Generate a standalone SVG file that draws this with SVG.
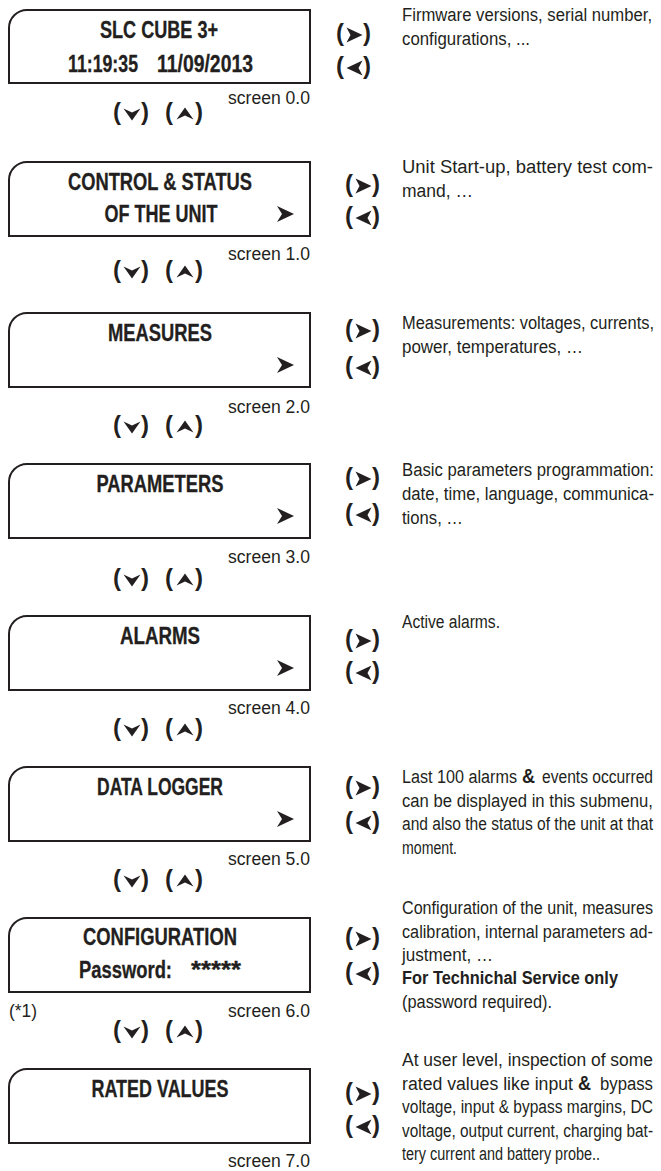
<svg xmlns="http://www.w3.org/2000/svg" xmlns:xlink="http://www.w3.org/1999/xlink" width="661" height="1171" viewBox="0 0 661 1171">
<style>
.bx{fill:#fff;stroke:#231f20;stroke-width:2}
text{font-family:"Liberation Sans Narrow","Liberation Sans",Arial,sans-serif;fill:#231f20}
.t{font-weight:bold;font-size:23px;text-anchor:middle;stroke:#231f20;stroke-width:0.3}
.t2{font-weight:bold;font-size:23px;stroke:#231f20;stroke-width:0.3}
.s{font-size:18px;text-anchor:end}
.d{font-size:19px}
.b{font-weight:bold}
.amp{font-weight:bold;font-size:21px}
.p{font-weight:bold;font-size:24px}
.k{fill:#231f20}
</style>
<defs>
<path id="box" d="M9,74 V18 A18,18 0 0 1 27,0 H310 V74 Z"/>
<path id="arr" d="M0,-8 L17,0 L0,8 L5,0 Z"/>
<path id="chR" d="M0,-7.5 L16,0 L0,7.5 L4,0 Z"/>
<path id="chL" d="M16,-7.5 L0,0 L16,7.5 L12,0 Z"/>
<path id="chD" d="M-8.5,-5.5 L0,-1.5 L8.5,-5.5 L0,6.5 Z"/>
<path id="chU" d="M-8.5,5.5 L0,1.5 L8.5,5.5 L0,-6.5 Z"/>
</defs>

<g id="screen0">
<path class="bx" d="M9,83 V28 A18,18 0 0 1 27,10 H310 V83 Z"/>
<text class="t" x="159" y="38" textLength="118" lengthAdjust="spacingAndGlyphs">SLC CUBE 3+</text>
<text class="t2" y="72"><tspan x="68" textLength="70" lengthAdjust="spacingAndGlyphs">11:19:35</tspan><tspan x="157" textLength="96" lengthAdjust="spacingAndGlyphs">11/09/2013</tspan></text>
<text class="s" x="310" y="104" textLength="82" lengthAdjust="spacingAndGlyphs">screen 0.0</text>
<g transform="translate(402,0) scale(0.82,1)">
<text class="d" x="0" y="21" textLength="304.9" lengthAdjust="spacingAndGlyphs">Firmware versions, serial number,</text>
<text class="d" x="0" y="45" textLength="156.1" lengthAdjust="spacingAndGlyphs">configurations, ...</text>
</g>
</g>

<g id="screen1">
<use xlink:href="#box" class="bx" y="162"/>
<text class="t" x="160" y="190" textLength="184" lengthAdjust="spacingAndGlyphs">CONTROL &amp; STATUS</text>
<text class="t" x="161" y="222" textLength="113" lengthAdjust="spacingAndGlyphs">OF THE UNIT</text>
<use xlink:href="#arr" class="k" x="277" y="214"/>
<text class="s" x="310" y="260" textLength="82" lengthAdjust="spacingAndGlyphs">screen 1.0</text>
<g transform="translate(402,0) scale(0.82,1)">
<text class="d" x="0" y="173" textLength="306.1" lengthAdjust="spacingAndGlyphs">Unit Start-up, battery test com-</text>
<text class="d" x="0" y="197" textLength="86.6" lengthAdjust="spacingAndGlyphs">mand, …</text>
</g>
</g>

<g id="screen2">
<use xlink:href="#box" class="bx" y="313"/>
<text class="t" x="160" y="341" textLength="104" lengthAdjust="spacingAndGlyphs">MEASURES</text>
<use xlink:href="#arr" class="k" x="277" y="365"/>
<text class="s" x="310" y="413" textLength="82" lengthAdjust="spacingAndGlyphs">screen 2.0</text>
<g transform="translate(402,0) scale(0.82,1)">
<text class="d" x="0" y="329" textLength="307.3" lengthAdjust="spacingAndGlyphs">Measurements: voltages, currents,</text>
<text class="d" x="0" y="353" textLength="220.7" lengthAdjust="spacingAndGlyphs">power, temperatures, …</text>
</g>
</g>

<g id="screen3">
<use xlink:href="#box" class="bx" y="464"/>
<text class="t" x="160" y="492" textLength="127" lengthAdjust="spacingAndGlyphs">PARAMETERS</text>
<use xlink:href="#arr" class="k" x="277" y="516"/>
<text class="s" x="310" y="563" textLength="82" lengthAdjust="spacingAndGlyphs">screen 3.0</text>
<g transform="translate(402,0) scale(0.82,1)">
<text class="d" x="0" y="476" textLength="307.3" lengthAdjust="spacingAndGlyphs">Basic parameters programmation:</text>
<text class="d" x="0" y="500" textLength="307.3" lengthAdjust="spacingAndGlyphs">date, time, language, communica-</text>
<text class="d" x="0" y="524" textLength="74.4" lengthAdjust="spacingAndGlyphs">tions, …</text>
</g>
</g>

<g id="screen4">
<use xlink:href="#box" class="bx" y="616"/>
<text class="t" x="160" y="644" textLength="80" lengthAdjust="spacingAndGlyphs">ALARMS</text>
<use xlink:href="#arr" class="k" x="277" y="668"/>
<text class="s" x="310" y="714" textLength="82" lengthAdjust="spacingAndGlyphs">screen 4.0</text>
<g transform="translate(402,0) scale(0.82,1)">
<text class="d" x="0" y="628" textLength="119.5" lengthAdjust="spacingAndGlyphs">Active alarms.</text>
</g>
</g>

<g id="screen5">
<use xlink:href="#box" class="bx" y="767"/>
<text class="t" x="160" y="795" textLength="126" lengthAdjust="spacingAndGlyphs">DATA LOGGER</text>
<use xlink:href="#arr" class="k" x="277" y="819"/>
<text class="s" x="310" y="865" textLength="82" lengthAdjust="spacingAndGlyphs">screen 5.0</text>
<g transform="translate(402,0) scale(0.82,1)">
<text class="d" x="0" y="783" textLength="140.2" lengthAdjust="spacingAndGlyphs">Last 100 alarms</text>
<text class="amp" x="146.3" y="783" textLength="15.9" lengthAdjust="spacingAndGlyphs">&amp;</text>
<text class="d" x="170.7" y="783" textLength="135.4" lengthAdjust="spacingAndGlyphs">events occurred</text>
<text class="d" x="0" y="807" textLength="306.1" lengthAdjust="spacingAndGlyphs">can be displayed in this submenu,</text>
<text class="d" x="0" y="830" textLength="306.1" lengthAdjust="spacingAndGlyphs">and also the status of the unit at that</text>
<text class="d" x="0" y="854" textLength="67.1" lengthAdjust="spacingAndGlyphs">moment.</text>
</g>
</g>

<g id="screen6">
<use xlink:href="#box" class="bx" y="918"/>
<text class="t" x="160" y="945" textLength="154" lengthAdjust="spacingAndGlyphs">CONFIGURATION</text>
<text class="t2" y="978"><tspan x="79" textLength="93" lengthAdjust="spacingAndGlyphs">Password:</tspan><tspan x="191" textLength="50" lengthAdjust="spacingAndGlyphs">*****</tspan></text>
<text class="s" x="37" y="1017" textLength="28" lengthAdjust="spacingAndGlyphs">(*1)</text>
<text class="s" x="310" y="1017" textLength="82" lengthAdjust="spacingAndGlyphs">screen 6.0</text>
<g transform="translate(402,0) scale(0.82,1)">
<text class="d" x="0" y="914" textLength="306.1" lengthAdjust="spacingAndGlyphs">Configuration of the unit, measures</text>
<text class="d" x="0" y="938" textLength="306.1" lengthAdjust="spacingAndGlyphs">calibration, internal parameters ad-</text>
<text class="d" x="0" y="961" textLength="111" lengthAdjust="spacingAndGlyphs">justment, …</text>
<text class="d b" x="0" y="984" textLength="263.4" lengthAdjust="spacingAndGlyphs">For Technichal Service only</text>
<text class="d" x="0" y="1008" textLength="182.9" lengthAdjust="spacingAndGlyphs">(password required).</text>
</g>
</g>

<g id="screen7">
<use xlink:href="#box" class="bx" y="1069"/>
<text class="t" x="160" y="1097" textLength="137" lengthAdjust="spacingAndGlyphs">RATED VALUES</text>
<text class="s" x="310" y="1167" textLength="82" lengthAdjust="spacingAndGlyphs">screen 7.0</text>
<g transform="translate(402,0) scale(0.82,1)">
<text class="d" x="0" y="1066" textLength="306.1" lengthAdjust="spacingAndGlyphs">At user level, inspection of some</text>
<text class="d" x="0" y="1090" textLength="208.5" lengthAdjust="spacingAndGlyphs">rated values like input</text>
<text class="amp" x="214.6" y="1090" textLength="15.9" lengthAdjust="spacingAndGlyphs">&amp;</text>
<text class="d" x="241.5" y="1090" textLength="64.6" lengthAdjust="spacingAndGlyphs">bypass</text>
<text class="d" x="0" y="1113" textLength="306.1" lengthAdjust="spacingAndGlyphs">voltage, input &amp; bypass margins, DC</text>
<text class="d" x="0" y="1137" textLength="306.1" lengthAdjust="spacingAndGlyphs">voltage, output current, charging bat-</text>
<text class="d" x="0" y="1160" textLength="241.5" lengthAdjust="spacingAndGlyphs">tery current and battery probe..</text>
</g>
</g>

<g id="navigation">
<g id="nav-updown">
<g transform="translate(0,114)"><text class="p" x="113" y="6.2">(</text><use xlink:href="#chD" class="k" x="132"/><text class="p" x="141" y="6.2">)</text><text class="p" x="165" y="6.2">(</text><use xlink:href="#chU" class="k" x="185"/><text class="p" x="195" y="6.2">)</text></g>
<g transform="translate(0,272)"><text class="p" x="113" y="6.2">(</text><use xlink:href="#chD" class="k" x="132"/><text class="p" x="141" y="6.2">)</text><text class="p" x="165" y="6.2">(</text><use xlink:href="#chU" class="k" x="185"/><text class="p" x="195" y="6.2">)</text></g>
<g transform="translate(0,427)"><text class="p" x="113" y="6.2">(</text><use xlink:href="#chD" class="k" x="132"/><text class="p" x="141" y="6.2">)</text><text class="p" x="165" y="6.2">(</text><use xlink:href="#chU" class="k" x="185"/><text class="p" x="195" y="6.2">)</text></g>
<g transform="translate(0,580)"><text class="p" x="113" y="6.2">(</text><use xlink:href="#chD" class="k" x="132"/><text class="p" x="141" y="6.2">)</text><text class="p" x="165" y="6.2">(</text><use xlink:href="#chU" class="k" x="185"/><text class="p" x="195" y="6.2">)</text></g>
<g transform="translate(0,730)"><text class="p" x="113" y="6.2">(</text><use xlink:href="#chD" class="k" x="132"/><text class="p" x="141" y="6.2">)</text><text class="p" x="165" y="6.2">(</text><use xlink:href="#chU" class="k" x="185"/><text class="p" x="195" y="6.2">)</text></g>
<g transform="translate(0,881)"><text class="p" x="113" y="6.2">(</text><use xlink:href="#chD" class="k" x="132"/><text class="p" x="141" y="6.2">)</text><text class="p" x="165" y="6.2">(</text><use xlink:href="#chU" class="k" x="185"/><text class="p" x="195" y="6.2">)</text></g>
<g transform="translate(0,1032)"><text class="p" x="113" y="6.2">(</text><use xlink:href="#chD" class="k" x="132"/><text class="p" x="141" y="6.2">)</text><text class="p" x="165" y="6.2">(</text><use xlink:href="#chU" class="k" x="185"/><text class="p" x="195" y="6.2">)</text></g>
</g>
<g id="nav-rightleft">
<g transform="translate(-9,35)"><text class="p" x="345" y="6.2">(</text><use xlink:href="#chR" class="k" x="355.5"/><text class="p" x="372" y="6.2">)</text></g>
<g transform="translate(-9,68)"><text class="p" x="345" y="6.2">(</text><use xlink:href="#chL" class="k" x="355.5"/><text class="p" x="372" y="6.2">)</text></g>
<g transform="translate(0,186)"><text class="p" x="345" y="6.2">(</text><use xlink:href="#chR" class="k" x="355.5"/><text class="p" x="372" y="6.2">)</text></g>
<g transform="translate(0,218)"><text class="p" x="345" y="6.2">(</text><use xlink:href="#chL" class="k" x="355.5"/><text class="p" x="372" y="6.2">)</text></g>
<g transform="translate(0,331)"><text class="p" x="345" y="6.2">(</text><use xlink:href="#chR" class="k" x="355.5"/><text class="p" x="372" y="6.2">)</text></g>
<g transform="translate(0,368)"><text class="p" x="345" y="6.2">(</text><use xlink:href="#chL" class="k" x="355.5"/><text class="p" x="372" y="6.2">)</text></g>
<g transform="translate(0,479)"><text class="p" x="345" y="6.2">(</text><use xlink:href="#chR" class="k" x="355.5"/><text class="p" x="372" y="6.2">)</text></g>
<g transform="translate(0,515)"><text class="p" x="345" y="6.2">(</text><use xlink:href="#chL" class="k" x="355.5"/><text class="p" x="372" y="6.2">)</text></g>
<g transform="translate(0,641)"><text class="p" x="345" y="6.2">(</text><use xlink:href="#chR" class="k" x="355.5"/><text class="p" x="372" y="6.2">)</text></g>
<g transform="translate(0,673)"><text class="p" x="345" y="6.2">(</text><use xlink:href="#chL" class="k" x="355.5"/><text class="p" x="372" y="6.2">)</text></g>
<g transform="translate(0,788)"><text class="p" x="345" y="6.2">(</text><use xlink:href="#chR" class="k" x="355.5"/><text class="p" x="372" y="6.2">)</text></g>
<g transform="translate(0,823)"><text class="p" x="345" y="6.2">(</text><use xlink:href="#chL" class="k" x="355.5"/><text class="p" x="372" y="6.2">)</text></g>
<g transform="translate(0,939)"><text class="p" x="345" y="6.2">(</text><use xlink:href="#chR" class="k" x="355.5"/><text class="p" x="372" y="6.2">)</text></g>
<g transform="translate(0,974)"><text class="p" x="345" y="6.2">(</text><use xlink:href="#chL" class="k" x="355.5"/><text class="p" x="372" y="6.2">)</text></g>
<g transform="translate(0,1094)"><text class="p" x="345" y="6.2">(</text><use xlink:href="#chR" class="k" x="355.5"/><text class="p" x="372" y="6.2">)</text></g>
<g transform="translate(0,1127)"><text class="p" x="345" y="6.2">(</text><use xlink:href="#chL" class="k" x="355.5"/><text class="p" x="372" y="6.2">)</text></g>
</g>
</g>
</svg>
